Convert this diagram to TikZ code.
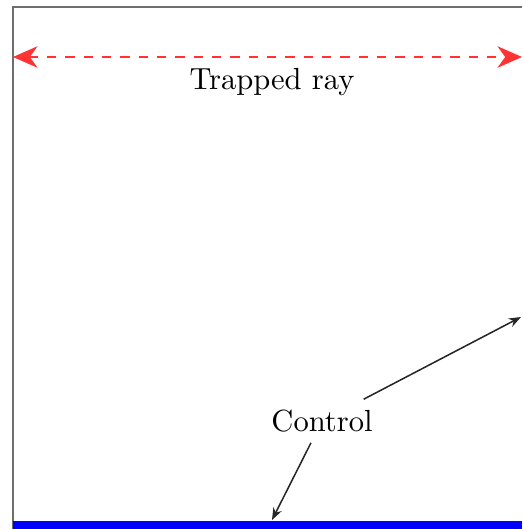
\documentclass[tikz,border=0pt]{standalone}
\usepackage{tikz}
\usetikzlibrary{arrows.meta,positioning}
\definecolor{wallgray}{RGB}{110,110,110}
\definecolor{raywhite}{RGB}{255,255,255}
\tikzset{
  wall/.style={line width=0.7pt,draw=wallgray},
  floor/.style={line width=2.8pt,draw=blue},
  ray/.style={{Stealth[length=8pt,width=7pt,inset=2.5pt]}-{Stealth[length=8pt,width=7pt,inset=2.5pt]},
              dashed,line width=0.9pt,color=red!80!white},
  lbl/.style={font=\normalsize,text=black,inner sep=3.3pt},
  ctl/.style={-{Stealth[length=4pt,width=3pt]},line width=0.5pt,color=black!85},
}
\begin{document}
\begin{tikzpicture}[x=0.0115cm,y=-0.0115cm]
  \useasboundingbox (0,0) rectangle (522,529);

  % Walls of the box
  \draw[wall] (13,529) -- (13,7) -- (522,7);
  \draw[floor] (13,525) -- (522,525);

  % Trapped ray
  \coordinate (rayL) at (13,57);
  \coordinate (rayR) at (522,57);
  \draw[ray] (rayL) -- (rayR);
  \node[lbl] (trap) at (272,82) {Trapped ray};

  % Control annotation
  \node[lbl] (ctrl) at (322,421) {Control};
  \coordinate (ctlA) at (272,520);
  \coordinate (ctlB) at (521,317);
  \draw[ctl] (ctrl) -- (ctlA);
  \draw[ctl] (ctrl) -- (ctlB);
\end{tikzpicture}
\end{document}
